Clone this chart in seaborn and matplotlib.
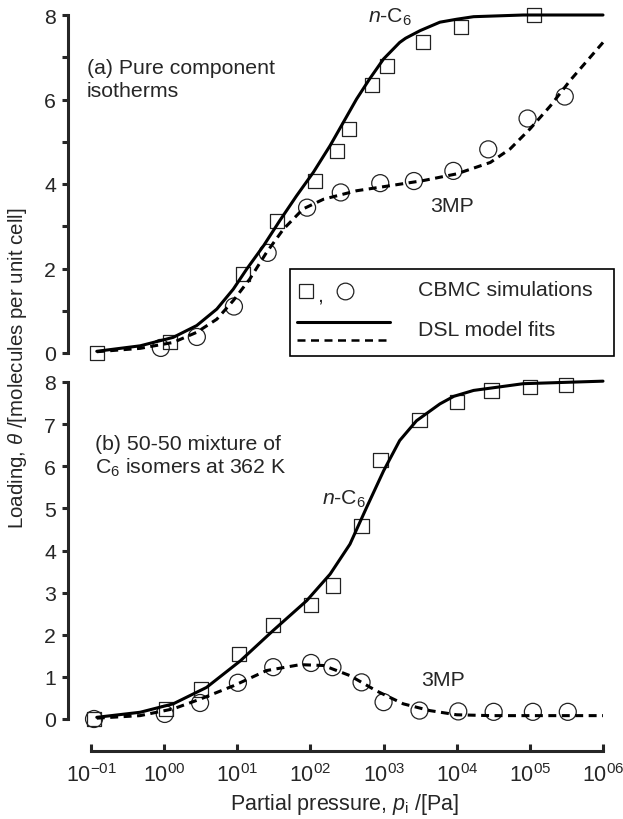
import numpy as np
import pandas as pd
import matplotlib
matplotlib.use("Agg")
import matplotlib.pyplot as plt
import seaborn as sns
from matplotlib.lines import Line2D
from matplotlib.patches import Rectangle
from matplotlib.ticker import FixedLocator, NullFormatter

# ---------------- data ----------------
# (a) pure component isotherms: CBMC simulation points
a_nc6_sim_p = [0.12, 1.2, 12, 35, 115, 230, 340, 700, 1120, 3500, 11500, 1.15e5]
a_nc6_sim_q = [0.0, 0.26, 1.87, 3.12, 4.08, 4.79, 5.3, 6.34, 6.8, 7.37, 7.72, 8.0]
a_3mp_sim_p = [0.9, 2.8, 9, 26, 90, 260, 900, 2600, 9000, 27000, 93000, 3.0e5]
a_3mp_sim_q = [0.12, 0.38, 1.1, 2.37, 3.44, 3.8, 4.02, 4.07, 4.31, 4.82, 5.55, 6.07]

# (a) DSL model fits
a_nc6_fit_p = [0.12, 0.47, 1.33, 2.79, 5.25, 8.81, 13.5, 22.9, 38.0, 64.6, 110, 186, 282,
               427, 646, 1000, 1660, 2000, 3160, 5890, 10000, 17000, 81300, 1e6]
a_nc6_fit_q = [0.04, 0.17, 0.37, 0.65, 1.04, 1.51, 1.99, 2.54, 3.13, 3.72, 4.28, 4.91, 5.46,
               6.01, 6.49, 6.96, 7.35, 7.45, 7.63, 7.83, 7.9, 7.96, 8.0, 8.0]
a_3mp_fit_p = [0.12, 0.47, 1.33, 2.79, 5.25, 8.81, 14.8, 25.1, 42.7, 79.4, 151, 427, 1230,
               3470, 10000, 28800, 53700, 1e5, 191000, 355000, 1e6]
a_3mp_fit_q = [0.03, 0.11, 0.25, 0.49, 0.8, 1.24, 1.75, 2.38, 2.93, 3.41, 3.64, 3.84, 3.96,
               4.08, 4.24, 4.51, 4.83, 5.3, 5.85, 6.45, 7.35]

# (b) 50-50 mixture at 362 K: CBMC simulation points
b_nc6_sim_p = [0.11, 1.07, 3.2, 10.5, 31, 102, 204, 500, 910, 3100, 10000, 30000, 1e5, 3.1e5]
b_nc6_sim_q = [0.0, 0.24, 0.7, 1.54, 2.23, 2.71, 3.17, 4.58, 6.14, 7.09, 7.52, 7.8, 7.88, 7.92]
b_3mp_sim_p = [0.11, 1.02, 3.1, 10.2, 31, 102, 200, 500, 1000, 3100, 10500, 32000, 1.1e5, 3.3e5]
b_3mp_sim_q = [0.0, 0.12, 0.38, 0.86, 1.23, 1.33, 1.23, 0.87, 0.4, 0.2, 0.18, 0.17, 0.17, 0.17]

# (b) DSL model fits
b_nc6_fit_p = [0.12, 0.47, 1.33, 3.8, 11, 30.9, 89, 186, 347, 589, 1000, 1660, 2820, 5890,
               9120, 17000, 81300, 1e6]
b_nc6_fit_q = [0.04, 0.16, 0.36, 0.75, 1.38, 2.1, 2.81, 3.44, 4.15, 5.03, 5.89, 6.61, 7.08,
               7.48, 7.66, 7.8, 7.96, 8.02]
b_3mp_fit_p = [0.12, 0.47, 1.33, 3.09, 8.91, 25.1, 72.4, 151, 347, 794, 1860, 4270, 10000,
               28800, 1e6]
b_3mp_fit_q = [0.02, 0.08, 0.24, 0.47, 0.79, 1.15, 1.29, 1.27, 1.03, 0.67, 0.36, 0.2, 0.1,
               0.08, 0.08]

xtick_values = [0.1, 1, 10, 100, 1e3, 1e4, 1e5, 1e6]
xtick_labels = [r"$\mathregular{10^{-01}}$", r"$\mathregular{10^{00}}$", r"$\mathregular{10^{01}}$",
                r"$\mathregular{10^{02}}$", r"$\mathregular{10^{03}}$", r"$\mathregular{10^{04}}$",
                r"$\mathregular{10^{05}}$", r"$\mathregular{10^{06}}$"]

# ---------------- style ----------------
sns.set_style("ticks")
plt.rcParams["font.family"] = ["Liberation Sans", "DejaVu Sans"]
plt.rcParams["mathtext.fontset"] = "custom"
plt.rcParams["mathtext.rm"] = "Liberation Sans"
plt.rcParams["mathtext.it"] = "Liberation Sans:italic"
plt.rcParams["mathtext.bf"] = "Liberation Sans:bold"

FS = 15.3
W, H = 623, 820
fig = plt.figure(figsize=(W / 100, H / 100), dpi=100)

def fx(px):
    return px / W

def fy(py):
    return 1 - py / H

left, right = 68, 603
dec = (603 - 91) / 7.0
xlo = 10 ** (-1 - (91 - left) / dec)

ax_a = fig.add_axes([fx(left), fy(354), fx(right - left), (354 - 16) / H])
ax_b = fig.add_axes([fx(left), fy(720), fx(right - left), (720 - 383) / H])

LW = 2.2
def draw(ax, fit1_p, fit1_q, fit2_p, fit2_q, s1_p, s1_q, s2_p, s2_q):
    sns.lineplot(x=fit1_p, y=fit1_q, ax=ax, color="black", lw=LW, clip_on=False,
                 estimator=None, sort=False, zorder=3)
    sns.lineplot(x=fit2_p, y=fit2_q, ax=ax, color="black", lw=LW, clip_on=False,
                 estimator=None, sort=False, zorder=3)
    ax.lines[-1].set_dashes((2.6, 1.8))
    for ln in ax.lines:
        ln.set_solid_joinstyle("round")
        ln.set_dash_joinstyle("round")
    sns.scatterplot(x=s1_p, y=s1_q, ax=ax, marker="s", s=105, facecolor="none",
                    edgecolor="#222222", linewidth=0.9, clip_on=False, zorder=2)
    sns.scatterplot(x=s2_p, y=s2_q, ax=ax, marker="o", s=150, facecolor="none",
                    edgecolor="#222222", linewidth=0.9, clip_on=False, zorder=2)
    ax.set_xscale("log")
    ax.set_xlim(xlo, 1e6)
    ax.set_ylim(0, 8)
    for sp in ["top", "right"]:
        ax.spines[sp].set_visible(False)
    ax.spines["left"].set_linewidth(LW)
    ax.tick_params(axis="y", which="both", direction="out", width=LW, length=4.5,
                   labelsize=FS, pad=4)
    ax.set_xlabel("")
    ax.set_ylabel("")
    ax.patch.set_alpha(0)

draw(ax_a, a_nc6_fit_p, a_nc6_fit_q, a_3mp_fit_p, a_3mp_fit_q,
     a_nc6_sim_p, a_nc6_sim_q, a_3mp_sim_p, a_3mp_sim_q)
draw(ax_b, b_nc6_fit_p, b_nc6_fit_q, b_3mp_fit_p, b_3mp_fit_q,
     b_nc6_sim_p, b_nc6_sim_q, b_3mp_sim_p, b_3mp_sim_q)

# top panel: no x axis
ax_a.spines["bottom"].set_visible(False)
ax_a.tick_params(axis="x", which="both", bottom=False, labelbottom=False)
ax_a.set_yticks([0, 2, 4, 6, 8])
ax_a.yaxis.set_minor_locator(FixedLocator([1, 3, 5, 7]))
ax_a.yaxis.set_minor_formatter(NullFormatter())

# bottom panel
ax_b.set_yticks(range(0, 9))
ax_b.yaxis.set_minor_locator(FixedLocator([]))
ax_b.spines["bottom"].set_position(("outward", 23))
ax_b.spines["bottom"].set_bounds(0.1, 1e6)
ax_b.spines["bottom"].set_linewidth(LW)
ax_b.set_xticks(xtick_values)
ax_b.set_xticklabels(xtick_labels)
ax_b.xaxis.set_minor_locator(FixedLocator([]))
ax_b.tick_params(axis="x", which="major", direction="in", width=LW, length=5,
                 labelsize=15.5, pad=9)

# annotations
fig.text(fx(87), fy(80), "(a) Pure component\nisotherms", fontsize=FS, ha="left",
         va="center", linespacing=1.28)
fig.text(fx(368), fy(17), r"$\mathit{n}$-C$_6$", fontsize=FS, ha="left", va="center")
fig.text(fx(430), fy(207), "3MP", fontsize=FS, ha="left", va="center")
fig.text(fx(95), fy(457), "(b) 50-50 mixture of\nC$_6$ isomers at 362 K", fontsize=FS,
         ha="left", va="center", linespacing=1.2)
fig.text(fx(322), fy(499), r"$\mathit{n}$-C$_6$", fontsize=FS, ha="left", va="center")
fig.text(fx(421), fy(681), "3MP", fontsize=FS, ha="left", va="center")

fig.text(fx(345), fy(805), r"Partial pressure, $\mathit{p}_\mathregular{i}$ /[Pa]",
         fontsize=15.5, ha="center", va="center")
fig.text(fx(18), fy(368), r"Loading, $\mathit{\theta}$ /[molecules per unit cell]",
         fontsize=14.8, ha="center", va="center", rotation=90)

# legend box (manual)
box = Rectangle((fx(290), fy(357)), fx(614 - 290), (357 - 270) / H, transform=fig.transFigure,
                facecolor="white", edgecolor="black", linewidth=1.2, zorder=5)
fig.add_artist(box)
fig.add_artist(Line2D([fx(306)], [fy(292)], marker="s", markersize=10, mfc="none",
                      mec="#222222", mew=0.9, transform=fig.transFigure, zorder=6))
fig.text(fx(317), fy(296), ",", fontsize=FS, ha="left", va="center", zorder=6)
fig.add_artist(Line2D([fx(345)], [fy(292)], marker="o", markersize=12, mfc="none",
                      mec="#222222", mew=0.9, transform=fig.transFigure, zorder=6))
fig.text(fx(418), fy(290), "CBMC simulations", fontsize=FS, ha="left", va="center", zorder=6)
fig.add_artist(Line2D([fx(297), fx(390)], [fy(323), fy(323)], color="black", lw=LW,
                      transform=fig.transFigure, zorder=6))
fig.add_artist(Line2D([fx(297), fx(390)], [fy(341), fy(341)], color="black", lw=1.8,
                      dashes=(3.2, 2.2), transform=fig.transFigure, zorder=6))
fig.text(fx(418), fy(330), "DSL model fits", fontsize=FS, ha="left", va="center", zorder=6)

fig.savefig("out.png", dpi=100)
